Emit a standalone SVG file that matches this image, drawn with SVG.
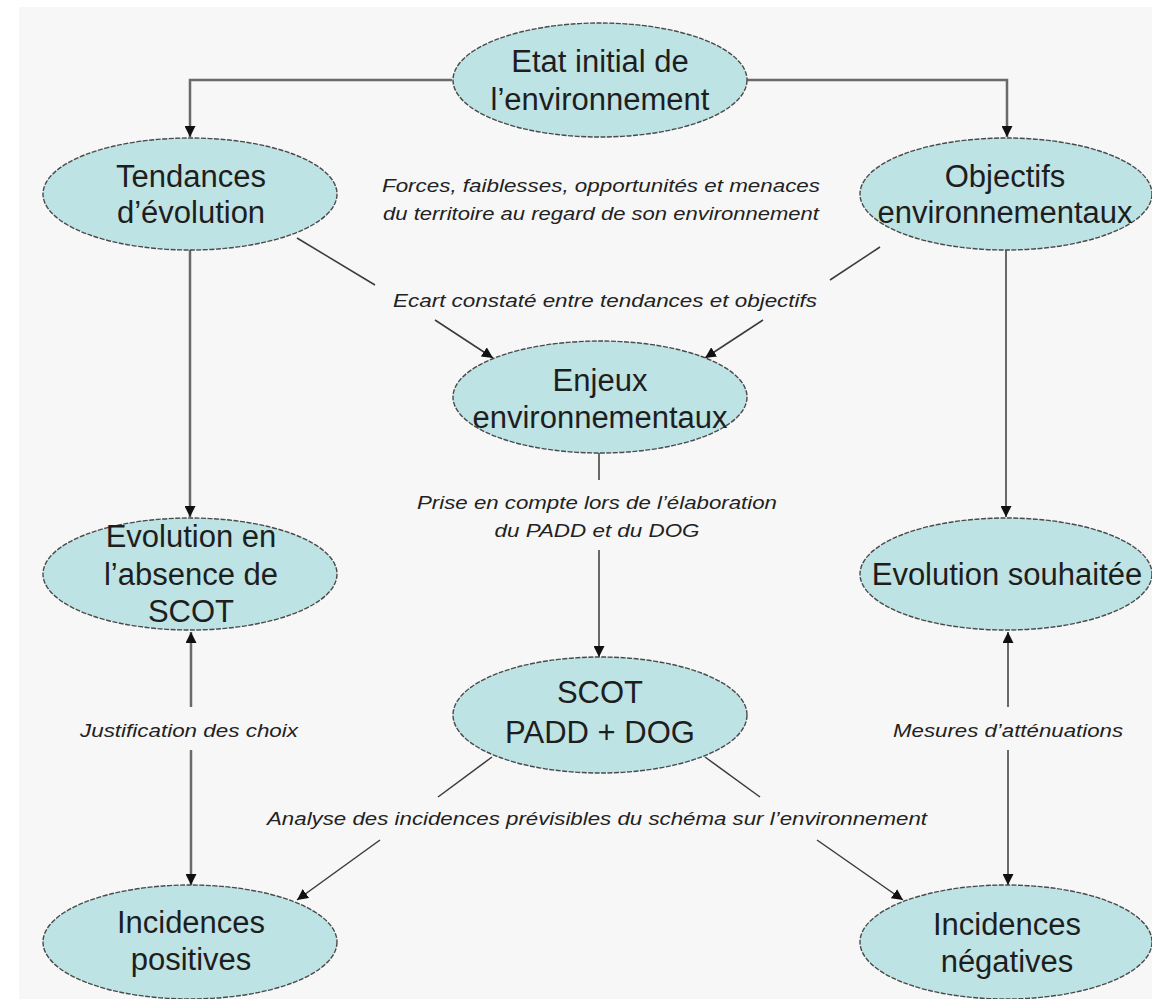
<svg xmlns="http://www.w3.org/2000/svg" width="1152" height="999" viewBox="0 0 1152 999">
  <style>
    .node ellipse { fill: #bee3e4; stroke: #4a4a4a; stroke-width: 1.4; stroke-dasharray: 5 1.5; }
    .node text { font-family: "Liberation Sans", Arial, sans-serif; font-size: 31px; fill: #1e1e1e; text-anchor: middle; }
    .lbl { font-family: "Liberation Sans", Arial, sans-serif; font-style: italic; font-size: 18px; fill: #222; text-anchor: middle; }
    .conn { fill: none; stroke: #3a3a3a; stroke-width: 1.5; }
    .thick { fill: none; stroke: #6a6a6a; stroke-width: 2.5; }
  </style>
  <defs>
    <marker id="arr" viewBox="0 0 10 10" refX="10" refY="5" markerWidth="11" markerHeight="11" markerUnits="userSpaceOnUse" orient="auto">
      <path d="M0,0 L10,5 L0,10 z" fill="#111"/>
    </marker>
  </defs>
  <rect x="0" y="0" width="1152" height="999" fill="#ffffff"/>
  <rect x="19" y="7" width="1133" height="992" fill="#f7f7f7"/>

  <g id="connectors">
    <path class="thick" d="M452,80 H190 V137" marker-end="url(#arr)"/>
    <path class="thick" d="M747,80 H1007 V137" marker-end="url(#arr)"/>
    <path class="thick" d="M190,250 V517" marker-end="url(#arr)"/>
    <path class="conn" d="M1006,250 V517" marker-end="url(#arr)"/>
    <path class="conn" d="M297,238 L375,285"/>
    <path class="conn" d="M435,320 L493,358" marker-end="url(#arr)"/>
    <path class="conn" d="M880,247 L830,280"/>
    <path class="conn" d="M763,320 L705,358" marker-end="url(#arr)"/>
    <path class="conn" d="M599,453 V480"/>
    <path class="conn" d="M599,550 V657" marker-end="url(#arr)"/>
    <path class="thick" d="M191,707 V632" marker-end="url(#arr)"/>
    <path class="thick" d="M191,750 V885" marker-end="url(#arr)"/>
    <path class="conn" d="M1008,707 V632" marker-end="url(#arr)"/>
    <path class="conn" d="M1008,750 V885" marker-end="url(#arr)"/>
    <path class="conn" d="M492,757 L438,797"/>
    <path class="conn" d="M380,840 L297,900" marker-end="url(#arr)"/>
    <path class="conn" d="M705,757 L760,797"/>
    <path class="conn" d="M817,840 L903,900" marker-end="url(#arr)"/>
  </g>

  <g id="labels">
    <text class="lbl" x="601" y="192" textLength="438" lengthAdjust="spacingAndGlyphs">Forces, faiblesses, opportunités et menaces</text>
    <text class="lbl" x="601" y="220" textLength="436" lengthAdjust="spacingAndGlyphs">du territoire au regard de son environnement</text>
    <text class="lbl" x="605" y="307" textLength="424" lengthAdjust="spacingAndGlyphs">Ecart constaté entre tendances et objectifs</text>
    <text class="lbl" x="597" y="509" textLength="360" lengthAdjust="spacingAndGlyphs">Prise en compte lors de l’élaboration</text>
    <text class="lbl" x="597" y="537" textLength="205" lengthAdjust="spacingAndGlyphs">du PADD et du DOG</text>
    <text class="lbl" x="189" y="737" textLength="218" lengthAdjust="spacingAndGlyphs">Justification des choix</text>
    <text class="lbl" x="1008" y="737" textLength="230" lengthAdjust="spacingAndGlyphs">Mesures d’atténuations</text>
    <text class="lbl" x="597" y="825" textLength="660" lengthAdjust="spacingAndGlyphs">Analyse des incidences prévisibles du schéma sur l’environnement</text>
  </g>

  <g id="etat" class="node">
    <ellipse cx="600" cy="80" rx="147" ry="57"/>
    <text x="600" y="72">Etat initial de</text>
    <text x="600" y="110">l’environnement</text>
  </g>
  <g id="tendances" class="node">
    <ellipse cx="190" cy="194" rx="147" ry="56"/>
    <text x="191" y="187">Tendances</text>
    <text x="191" y="223">d’évolution</text>
  </g>
  <g id="objectifs" class="node">
    <ellipse cx="1006" cy="194" rx="146" ry="56"/>
    <text x="1005" y="187">Objectifs</text>
    <text x="1005" y="223">environnementaux</text>
  </g>
  <g id="enjeux" class="node">
    <ellipse cx="600" cy="397" rx="147" ry="56"/>
    <text x="600" y="391">Enjeux</text>
    <text x="600" y="428">environnementaux</text>
  </g>
  <g id="evolution-absence" class="node">
    <ellipse cx="190" cy="574" rx="147" ry="56"/>
    <text x="191" y="547">Evolution en</text>
    <text x="191" y="585">l’absence de</text>
    <text x="191" y="622">SCOT</text>
  </g>
  <g id="evolution-souhaitee" class="node">
    <ellipse cx="1006" cy="574" rx="146" ry="56"/>
    <text x="1007" y="585">Evolution souhaitée</text>
  </g>
  <g id="scot" class="node">
    <ellipse cx="600" cy="715" rx="147" ry="58"/>
    <text x="600" y="703">SCOT</text>
    <text x="600" y="743">PADD + DOG</text>
  </g>
  <g id="incidences-positives" class="node">
    <ellipse cx="190" cy="942" rx="147" ry="57"/>
    <text x="191" y="933">Incidences</text>
    <text x="191" y="970">positives</text>
  </g>
  <g id="incidences-negatives" class="node">
    <ellipse cx="1006" cy="942" rx="146" ry="57"/>
    <text x="1007" y="935">Incidences</text>
    <text x="1007" y="972">négatives</text>
  </g>
</svg>
